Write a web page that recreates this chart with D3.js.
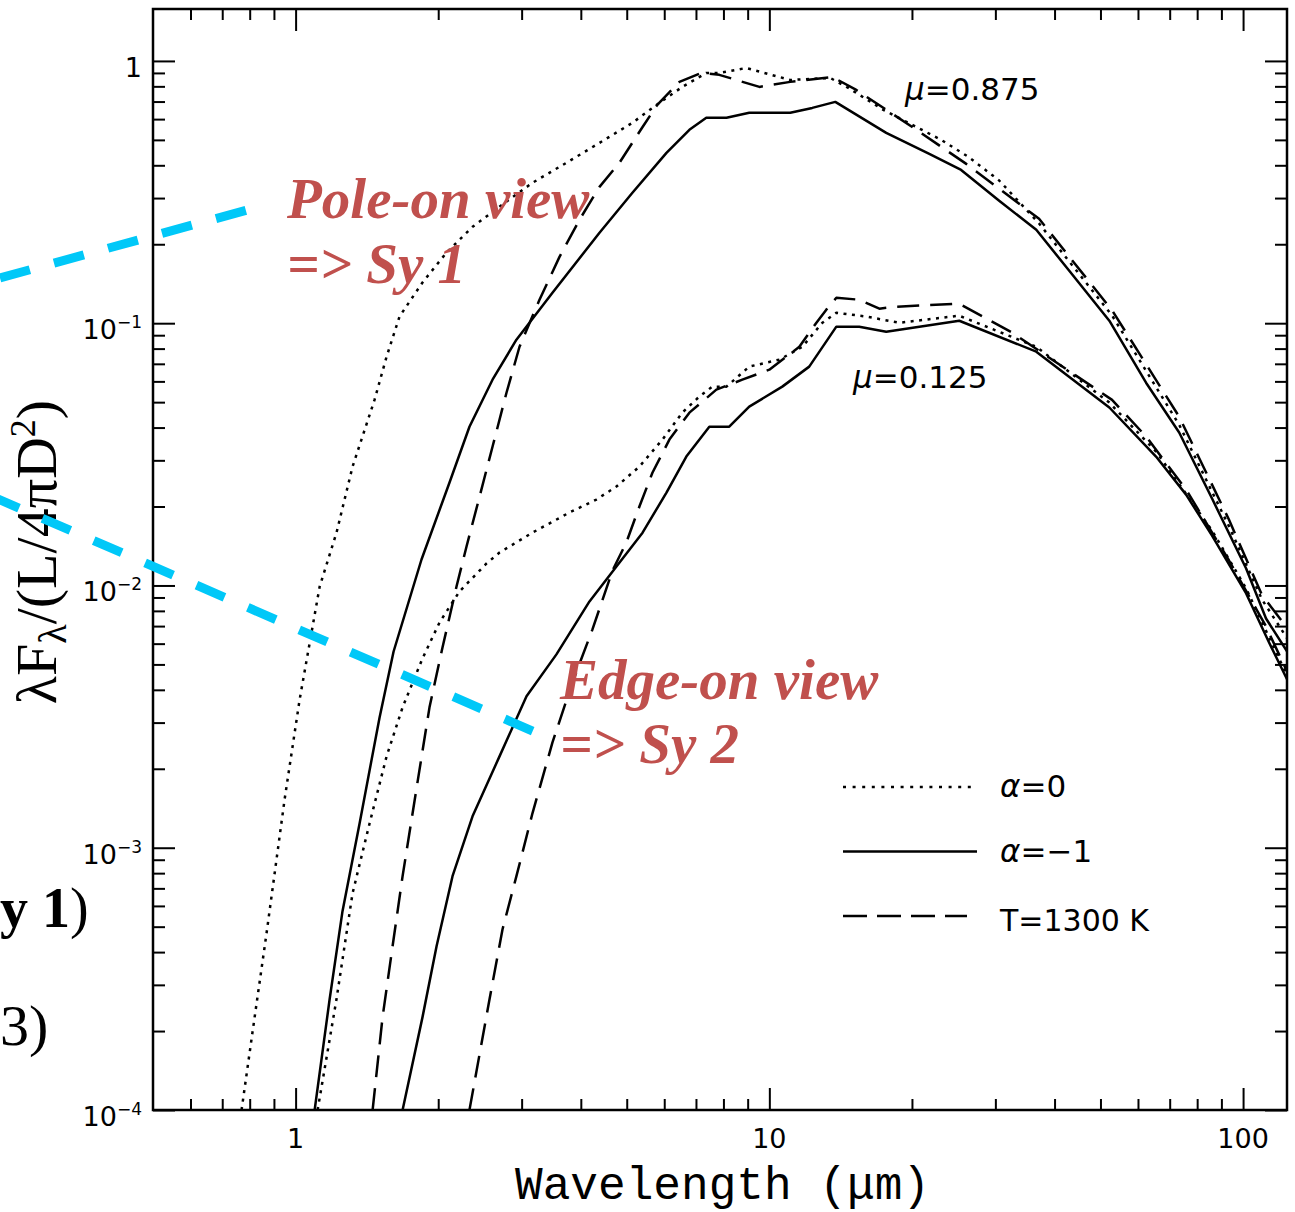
<!DOCTYPE html>
<html>
<head>
<meta charset="utf-8">
<script src="https://cdn.jsdelivr.net/npm/d3@7"></script>
<style>
body { margin: 0; background: #fff; }
svg { display: block; }
</style>
</head>
<body>
<div id="c1"></div>
<script>
// Variables
var w = 1295;
var h = 1212;

// wavelength (micron), lambda F_lambda / (L / 4 pi D^2)
// mu = 0.875 (pole-on)
var mu875_a0 = [[0.769,1.0e-4],[0.811,1.98e-4],[0.869,4.77e-4],[0.948,1.53e-3],[1.02,3.68e-3],[1.124,9.9e-3],[1.22,0.0159],[1.319,0.0284],[1.468,0.0511],[1.556,0.0745],[1.657,0.106],[1.853,0.143],[2.083,0.186],[2.363,0.233],[2.694,0.278],[3.162,0.343],[3.73,0.409],[4.38,0.487],[5.14,0.581],[5.86,0.692],[6.55,0.796],[7.36,0.90],[7.84,0.90],[8.94,0.94],[11.07,0.846],[13.45,0.861],[14.68,0.789],[17.4,0.651],[23.06,0.50],[26.3,0.431],[30.56,0.35],[37.1,0.24],[52.9,0.107],[73.3,0.041],[93.4,0.0168],[109.6,8.85e-3],[123.8,6.3e-3]];
var mu875_a1 = [[1.097,1.0e-4],[1.18,2.65e-4],[1.256,5.73e-4],[1.365,1.24e-3],[1.504,3.14e-3],[1.61,5.6e-3],[1.844,0.01256],[2.113,0.0247],[2.328,0.0403],[2.604,0.0609],[2.925,0.0865],[3.485,0.1307],[4.38,0.2212],[5.14,0.3143],[6.065,0.446],[6.78,0.546],[7.36,0.607],[8.12,0.607],[9.07,0.634],[11.07,0.634],[12.32,0.662],[13.78,0.698],[17.65,0.532],[21.76,0.442],[25.4,0.384],[30.56,0.293],[36.6,0.227],[42.96,0.1585],[52.2,0.1022],[62.4,0.0593],[73.3,0.0383],[86.0,0.02145],[101.5,0.0116],[111.8,7.48e-3],[123.8,5.61e-3]];
var mu875_T1300 = [[1.454,1.0e-4],[1.526,2.26e-4],[1.602,4.21e-4],[1.682,7.79e-4],[1.80,1.685e-3],[1.917,3.43e-3],[2.042,5.8e-3],[2.186,9.91e-3],[2.295,0.01408],[2.445,0.0218],[2.604,0.0338],[2.787,0.0543],[2.969,0.0813],[3.272,0.1229],[3.606,0.179],[3.974,0.248],[4.38,0.331],[4.826,0.409],[5.40,0.56],[5.80,0.68],[6.46,0.832],[7.19,0.90],[7.84,0.885],[9.53,0.796],[11.07,0.832],[13.58,0.869],[15.26,0.775],[20.03,0.56],[26.04,0.405],[37.1,0.25],[52.9,0.112],[73.3,0.044],[93.4,0.0178],[109.6,9.2e-3],[123.8,6.9e-3]];
// mu = 0.125 (edge-on)
var mu125_a0 = [[1.113,1.0e-4],[1.22,2.65e-4],[1.319,6.71e-4],[1.433,1.24e-3],[1.556,2.23e-3],[1.682,3.43e-3],[1.853,5.27e-3],[2.013,7.23e-3],[2.218,9.49e-3],[2.529,0.01213],[2.694,0.01335],[3.162,0.0159],[3.785,0.01897],[4.315,0.02127],[4.756,0.02383],[5.318,0.0284],[5.948,0.036],[6.55,0.0456],[7.115,0.0525],[7.58,0.0573],[8.12,0.0573],[9.07,0.0683],[10.5,0.0726],[11.74,0.0813],[12.94,0.1004],[13.85,0.1096],[16.02,0.106],[18.8,0.1004],[25.17,0.1068],[36.6,0.0813],[52.2,0.0498],[65.5,0.0324],[86.0,0.0162],[101.5,9.74e-3],[123.8,4.54e-3]];
var mu125_a1 = [[1.682,1.0e-4],[1.853,2.26e-4],[1.984,4.21e-4],[2.144,7.79e-4],[2.363,1.318e-3],[2.694,2.23e-3],[3.072,3.78e-3],[3.553,5.46e-3],[4.172,8.69e-3],[4.756,0.01181],[5.40,0.0159],[6.065,0.0226],[6.68,0.031],[7.47,0.0403],[8.23,0.0403],[9.07,0.0481],[10.65,0.0573],[12.14,0.0683],[13.85,0.097],[15.48,0.097],[17.65,0.0928],[25.17,0.1022],[36.6,0.0779],[52.2,0.0477],[65.5,0.031],[75.8,0.0222],[86.0,0.0155],[101.5,9.32e-3],[113.4,6.07e-3],[123.8,4.39e-3]];
var mu125_T1300 = [[2.328,1.0e-4],[2.567,2.65e-4],[2.734,4.89e-4],[2.925,7.79e-4],[3.162,1.353e-3],[3.485,2.52e-3],[3.84,4.27e-3],[4.233,6.8e-3],[4.665,0.0114],[4.99,0.01458],[5.318,0.02],[5.665,0.0269],[6.152,0.036],[6.78,0.0456],[7.73,0.0558],[8.77,0.0609],[10.0,0.0665],[11.57,0.0813],[12.57,0.1004],[13.19,0.1126],[13.85,0.125],[15.48,0.1229],[17.07,0.1136],[18.53,0.1156],[25.17,0.1187],[32.56,0.092],[52.9,0.051],[62.4,0.037],[75.8,0.0232],[93.4,0.01245],[111.8,6.98e-3],[123.8,4.7e-3]];

// ticks
var xMajor = [1, 10, 100];
var xMajorLabels = ["1", "10", "100"];
var xMinor = [0.6,0.7,0.8,0.9,2,3,4,5,6,7,8,9,20,30,40,50,60,70,80,90];
var yMajor = [1e-4, 1e-3, 1e-2, 1e-1, 1];
var yMajorBase = ["10", "10", "10", "10", "1"];
var yMajorExp = ["\u22124", "\u22123", "\u22122", "\u22121", ""];
var yMinor = [];
[1e-4, 1e-3, 1e-2, 1e-1].forEach(function (d) {
    for (var k = 2; k <= 9; k++) yMinor.push(d * k);
});

// legend
var legendItems = [
    {label: "=0", dash: "3,6.6"},
    {label: "=\u22121", dash: null},
    {label: "T=1300 K", dash: "24,10"}
];

var seriesList = [
    {data: mu875_a0, dash: "3,5.5"},
    {data: mu875_a1, dash: null},
    {data: mu875_T1300, dash: "22,11"},
    {data: mu125_a0, dash: "3,5.5"},
    {data: mu125_a1, dash: null},
    {data: mu125_T1300, dash: "22,11"}
];

var pL = 153, pR = 1287, pT = 9, pB = 1110;

var svg = d3.select("#c1").append("svg")
    .attr("width", w)
    .attr("height", h);

var x = d3.scaleLog().domain([0.5, 123.8]).range([pL, pR]);
var y = d3.scaleLog().domain([1e-4, Math.pow(10, 0.198)]).range([pB, pT]);

svg.append("defs").append("clipPath").attr("id", "plotclip")
    .append("rect")
    .attr("x", pL).attr("y", pT)
    .attr("width", pR - pL).attr("height", pB - pT);

// ticks (all inward, on four sides)
function tickAxis(axis, tr, vals, len) {
    var g = svg.append("g")
        .attr("transform", tr)
        .call(axis.tickValues(vals).tickSize(-len).tickFormat(""));
    g.select(".domain").remove();
    g.selectAll("line").attr("stroke", "#000").attr("stroke-width", 2);
}
tickAxis(d3.axisBottom(x), "translate(0," + pB + ")", xMinor, 11);
tickAxis(d3.axisBottom(x), "translate(0," + pB + ")", xMajor, 22);
tickAxis(d3.axisTop(x), "translate(0," + pT + ")", xMinor, 11);
tickAxis(d3.axisTop(x), "translate(0," + pT + ")", xMajor, 22);
tickAxis(d3.axisLeft(y), "translate(" + pL + ",0)", yMinor, 12);
tickAxis(d3.axisLeft(y), "translate(" + pL + ",0)", yMajor, 22);
tickAxis(d3.axisRight(y), "translate(" + pR + ",0)", yMinor, 12);
tickAxis(d3.axisRight(y), "translate(" + pR + ",0)", yMajor, 22);

// frame
svg.append("rect")
    .attr("x", pL).attr("y", pT)
    .attr("width", pR - pL).attr("height", pB - pT)
    .attr("fill", "none").attr("stroke", "#000").attr("stroke-width", 2.5);

// tick labels
svg.append("g").selectAll("text")
    .data(xMajor)
    .enter().append("text")
    .attr("x", function (d) { return x(d); })
    .attr("y", 1148)
    .attr("text-anchor", "middle")
    .attr("font-family", "DejaVu Sans")
    .attr("font-size", 27)
    .text(function (d, i) { return xMajorLabels[i]; });

var yl = svg.append("g").selectAll("text")
    .data(yMajor)
    .enter().append("text")
    .attr("x", 142)
    .attr("y", function (d) { return y(d) + 16; })
    .attr("text-anchor", "end")
    .attr("font-family", "DejaVu Sans")
    .attr("font-size", 27);
yl.append("tspan").text(function (d, i) { return yMajorBase[i]; });
yl.append("tspan")
    .attr("font-size", 17)
    .attr("dy", -11)
    .text(function (d, i) { return yMajorExp[i]; });

// curves
var line = d3.line()
    .x(function (d) { return x(d[0]); })
    .y(function (d) { return y(d[1]); });

var plot = svg.append("g").attr("clip-path", "url(#plotclip)");
plot.selectAll("path.curve")
    .data(seriesList)
    .enter().append("path")
    .attr("class", "curve")
    .attr("d", function (d) { return line(d.data); })
    .attr("fill", "none")
    .attr("stroke", "#000")
    .attr("stroke-width", 2.5)
    .attr("stroke-linejoin", "round")
    .attr("stroke-dasharray", function (d) { return d.dash; });

// mu labels
function muLabel(tx, ty, val) {
    var t = svg.append("text")
        .attr("x", tx).attr("y", ty)
        .attr("font-family", "DejaVu Sans")
        .attr("font-size", 31);
    t.append("tspan").attr("font-style", "italic").text("\u03bc");
    t.append("tspan").text("=" + val);
}
muLabel(905, 100, "0.875");
muLabel(853, 388, "0.125");

// legend
var lg = svg.append("g");
legendItems.forEach(function (d, i) {
    var ly = 787 + i * 64.5;
    lg.append("line")
        .attr("x1", 843).attr("x2", i == 2 ? 967 : 977)
        .attr("y1", ly).attr("y2", ly)
        .attr("stroke", "#000").attr("stroke-width", 2.3)
        .attr("stroke-dasharray", d.dash);
    var t = lg.append("text")
        .attr("x", 1000).attr("y", ly + 10 + (i == 2 ? 5 : 0))
        .attr("font-family", "DejaVu Sans")
        .attr("font-size", i == 2 ? 30 : 31);
    if (i < 2) t.append("tspan").attr("font-style", "italic").text("\u03b1");
    t.append("tspan").text(d.label);
});

// axis titles
svg.append("text")
    .attr("x", 515).attr("y", 1199)
    .attr("font-family", "Liberation Mono")
    .attr("font-size", 47)
    .attr("textLength", 415)
    .attr("lengthAdjust", "spacingAndGlyphs")
    .text("Wavelength (\u03bcm)");

var yt = svg.append("text")
    .attr("transform", "translate(56,552) rotate(-90)")
    .attr("text-anchor", "middle")
    .attr("font-family", "Liberation Serif")
    .attr("font-size", 58);
yt.append("tspan").text("\u03bbF");
yt.append("tspan").attr("font-size", 40).attr("dy", 10).text("\u03bb");
yt.append("tspan").attr("dy", -10).text("/(L/4\u03c0D");
yt.append("tspan").attr("font-size", 36).attr("dy", -21).text("2");
yt.append("tspan").attr("dy", 21).text(")");

// annotations
var cyan = "#00c8f8";
svg.append("line")
    .attr("x1", 0).attr("y1", 278).attr("x2", 247).attr("y2", 210)
    .attr("stroke", cyan).attr("stroke-width", 9).attr("stroke-dasharray", "31,25");
svg.append("line")
    .attr("x1", -9).attr("y1", 496).attr("x2", 537).attr("y2", 733)
    .attr("stroke", cyan).attr("stroke-width", 9).attr("stroke-dasharray", "30.5,25.5");

var red = "#c0504d";
function note(tx, ty, s) {
    svg.append("text")
        .attr("x", tx).attr("y", ty)
        .attr("font-family", "Liberation Serif")
        .attr("font-weight", "bold")
        .attr("font-style", "italic")
        .attr("font-size", 57)
        .attr("fill", red)
        .text(s);
}
note(287, 218, "Pole-on view");
note(287, 283, "=> Sy 1");
note(560, 699, "Edge-on view");
note(560, 763, "=> Sy 2");

// cut-off text on the left edge
var c1 = svg.append("text")
    .attr("x", 0).attr("y", 927)
    .attr("font-family", "Liberation Serif")
    .attr("font-size", 56);
c1.append("tspan").attr("font-weight", "bold").text("y 1");
c1.append("tspan").text(")");
svg.append("text")
    .attr("x", 0).attr("y", 1045)
    .attr("font-family", "Liberation Serif")
    .attr("font-size", 58)
    .text("3)");
</script>
</body>
</html>
